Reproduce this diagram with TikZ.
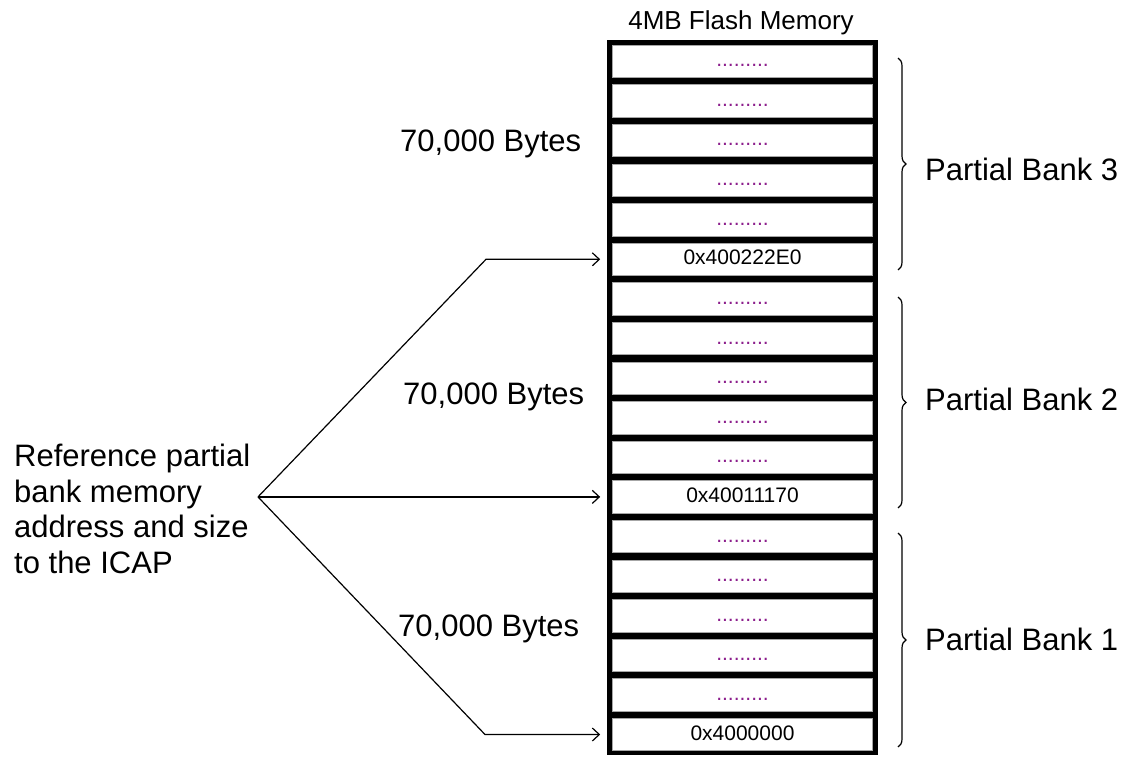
\documentclass[tikz,border=0pt]{standalone}
\usepackage{fontspec}
\setmainfont{Liberation Sans}
\usetikzlibrary{arrows.meta,decorations.pathreplacing}
\definecolor{dotpurple}{RGB}{140,30,140}
\begin{document}
\begin{tikzpicture}[x=1pt,y=-1pt,
  cellbox/.style={draw=gray!70, line width=0.6pt, fill=white, minimum width=260pt,
    minimum height=32.4pt, inner sep=0pt, text height=11pt, text depth=0pt,
    font=\fontsize{21}{24}\selectfont},
  dotcell/.style={cellbox, text=dotpurple},
  bigtext/.style={font=\fontsize{31}{35.5}\selectfont, inner sep=0pt},
  link/.style={line width=1.2pt, -{Straight Barb[length=7pt,width=13pt,line width=1.2pt]}},
  bankbrace/.style={decorate, decoration={brace, amplitude=8pt}, line width=1.2pt}
]
\useasboundingbox (0,0) rectangle (1124,757);
% memory column
\fill[black] (607,40) rectangle (878,755);
\foreach \i in {0,...,4,6,7,...,10,12,13,...,16}{
  \node[dotcell] (c\i) at (742.5,{61.3+39.6*\i}) {.........};
}
\node[cellbox] (c5) at (742.5,259.3) {0x400222E0};
\node[cellbox] (c11) at (742.5,496.9) {0x40011170};
\node[cellbox] (c17) at (742.5,734.5) {0x4000000};
% title
\node[font=\fontsize{26}{30}\selectfont, anchor=base, inner sep=0pt] (title) at (741,30) {4MB Flash Memory};
% sizes
\node[bigtext, anchor=base west] (s3) at (400,151) {70,000 Bytes};
\node[bigtext, anchor=base west] (s2) at (403,404) {70,000 Bytes};
\node[bigtext, anchor=base west] (s1) at (398,636) {70,000 Bytes};
% banks
\node[bigtext, anchor=base west] (b3) at (925,180) {Partial Bank 3};
\node[bigtext, anchor=base west] (b2) at (925,410) {Partial Bank 2};
\node[bigtext, anchor=base west] (b1) at (925,650) {Partial Bank 1};
\coordinate (br3a) at (898,58);  \coordinate (br3b) at (898,270);
\coordinate (br2a) at (898,297); \coordinate (br2b) at (898,508);
\coordinate (br1a) at (898,533); \coordinate (br1b) at (898,747);
\draw[bankbrace] (br3a) -- (br3b);
\draw[bankbrace] (br2a) -- (br2b);
\draw[bankbrace] (br1a) -- (br1b);
% left text
\node[bigtext, align=left, anchor=west] (ref) at (14,509) {Reference partial\\bank memory\\address and size\\to the ICAP};
\coordinate (src) at (258,496.9);
\coordinate (k3) at (486,259.3);
\coordinate (k1) at (485,734.5);
\draw[link] (src) -- (k3) -- ([xshift=-12pt]c5.west);
\draw[link] (src) -- ([xshift=-12pt]c11.west);
\draw[link] (src) -- (k1) -- ([xshift=-12pt]c17.west);
\end{tikzpicture}
\end{document}
